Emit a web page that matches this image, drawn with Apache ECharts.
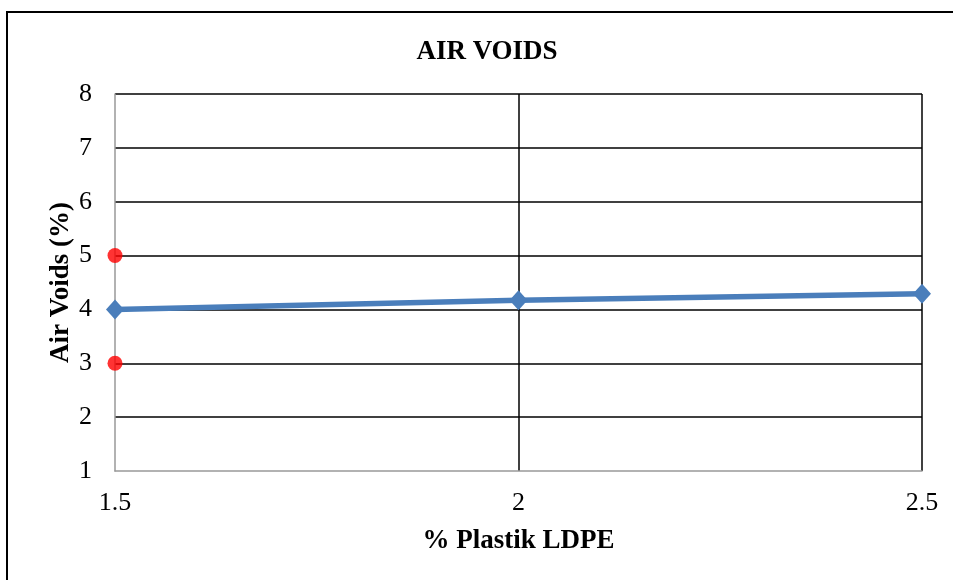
<!DOCTYPE html>
<html>
<head>
<meta charset="utf-8">
<script src="https://cdn.jsdelivr.net/npm/echarts@6/dist/echarts.min.js"></script>
<style>
  html, body { margin: 0; padding: 0; background: #fff; }
  #chart { width: 953px; height: 580px; }
</style>
</head>
<body>
<div id="chart"></div>
<script>
// Plastic content (%) and measured air voids (%)
const plasticLDPE = [1.5, 2, 2.5];
const airVoids = [4.0, 4.17, 4.29];
// Specification limits for air voids, shown at the first plastic content
const specLimitX = [1.5, 1.5];
const specLimitY = [5, 3];

const FONT = '"Liberation Serif", "Times New Roman", serif';

const chart = echarts.init(document.getElementById('chart'), null, { renderer: 'canvas' });
chart.setOption({
  animation: false,
  graphic: [{
    // chart frame (left and top edges)
    type: 'polyline', silent: true,
    shape: { points: [[7, 580], [7, 12], [953, 12]] },
    style: { stroke: '#000', lineWidth: 2, fill: null }
  }],
  title: {
    text: 'AIR VOIDS',
    left: 482, top: 34, textAlign: 'center',
    textStyle: { fontFamily: FONT, fontWeight: 'bold', fontSize: 27, color: '#000' }
  },
  grid: { left: 115, right: 31, top: 94, bottom: 109 },
  xAxis: {
    type: 'value', min: 1.5, max: 2.5, interval: 0.5,
    name: '% Plastik LDPE', nameLocation: 'middle', nameGap: 57,
    nameTextStyle: { fontFamily: FONT, fontWeight: 'bold', fontSize: 27, color: '#000' },
    axisLine: { show: true, lineStyle: { color: '#999', width: 1.5 } },
    axisTick: { show: false },
    axisLabel: { fontFamily: FONT, fontSize: 26, color: '#000', margin: 19,
      formatter: v => String(v) },
    splitLine: { show: true, showMinLine: false, lineStyle: { color: '#000', width: 1.5 } }
  },
  yAxis: {
    type: 'value', min: 1, max: 8, interval: 1,
    name: 'Air Voids (%)', nameLocation: 'middle', nameGap: 40, nameRotate: 90,
    nameMoveOverlap: false,
    nameTextStyle: { fontFamily: FONT, fontWeight: 'bold', fontSize: 27, color: '#000' },
    axisLine: { show: true, lineStyle: { color: '#999', width: 1.5 } },
    axisTick: { show: false },
    axisLabel: { fontFamily: FONT, fontSize: 26, color: '#000', margin: 23 },
    splitLine: { show: true, showMinLine: false, lineStyle: { color: '#000', width: 1.5 } }
  },
  series: [
    {
      type: 'line',
      data: plasticLDPE.map((x, i) => [x, airVoids[i]]),
      symbol: 'diamond', symbolSize: [18, 20],
      lineStyle: { color: '#4a7ebb', width: 5.5 },
      itemStyle: { color: '#4a7ebb' },
      z: 3
    },
    {
      type: 'scatter',
      data: specLimitX.map((x, i) => [x, specLimitY[i]]),
      symbol: 'circle', symbolSize: 15,
      itemStyle: { color: '#ff0000' },
      z: 4
    }
  ]
});
</script>
</body>
</html>
